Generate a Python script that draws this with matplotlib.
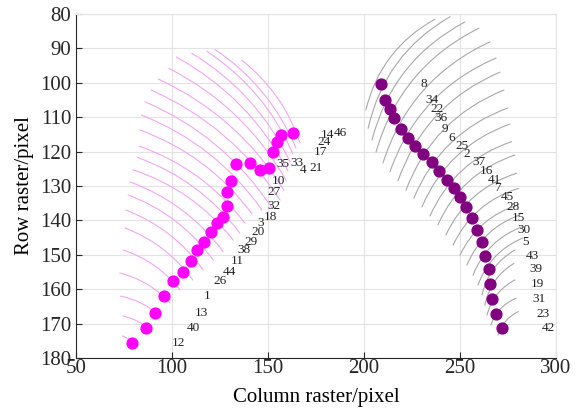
import matplotlib
matplotlib.use("Agg")
import matplotlib.pyplot as plt
from matplotlib.patches import FancyArrowPatch

plt.rcParams['font.family'] = ['Liberation Serif', 'DejaVu Serif']

# left group (magenta), listed from the bottom up
mag_x = [79.0, 86.5, 91.1, 95.7, 100.7, 105.7, 109.9, 112.9, 116.7, 120.2, 123.4, 126.7,
         128.8, 128.5, 130.9, 133.3, 140.6, 145.8, 150.5, 152.8, 154.7, 156.6, 163.2]
mag_y = [175.7, 171.4, 167.0, 162.0, 157.6, 154.9, 151.8, 148.6, 146.2, 143.5, 140.8, 138.9,
         135.8, 131.7, 128.5, 123.7, 123.4, 125.3, 124.8, 120.2, 117.3, 115.2, 114.7]
mag_lab = ['12', '40', '13', '1', '26', '44', '11', '38', '29', '20', '3', '18',
           '32', '27', '10', '35', '33', '4', '21', '17', '24', '14', '46']

# scan arcs of the left group: start (upper left) -> end (lower right)
mag_arc_x0 = [74.3, 74.6, 73.2, 72.9, 74.6, 75.5, 76.0, 77.2, 78.1, 79.8, 82.1, 83.0,
              83.3, 84.2, 85.9, 89.1, 92.9, 98.4, 102.3, 110.3, 118.1, 122.4, 136.3]
mag_arc_y0 = [173.6, 167.8, 162.0, 155.3, 148.6, 142.2, 137.0, 132.6, 128.8, 125.3, 121.7, 118.4,
              113.7, 109.4, 105.5, 102.1, 98.9, 95.8, 92.5, 91.4, 90.8, 90.3, 93.4]
mag_arc_x1 = [81.8, 89.6, 94.3, 99.0, 104.2, 110.8, 116.3, 121.5, 126.7, 131.9, 135.4, 138.0,
              141.7, 146.9, 152.1, 156.3, 158.3, 159.4, 160.4, 161.5, 163.0, 164.6, 166.7]
mag_arc_y1 = [176.8, 172.4, 168.1, 164.0, 160.2, 157.3, 154.4, 151.5, 149.1, 145.7, 143.7, 140.8,
              138.1, 137.0, 136.4, 134.1, 131.2, 128.3, 125.6, 123.0, 120.7, 119.0, 117.5]

# right group (purple), listed from the top down
pur_x = [208.7, 210.9, 213.5, 215.6, 219.3, 223.1, 226.7, 230.9, 235.4, 239.1, 243.4, 246.9,
         250.0, 253.0, 256.1, 258.7, 261.5, 263.2, 265.1, 265.8, 266.7, 268.6, 271.7]
pur_y = [100.3, 105.0, 107.7, 110.3, 113.5, 116.1, 118.4, 120.6, 123.0, 125.6, 128.3, 130.5,
         133.1, 136.2, 139.2, 142.8, 146.4, 150.3, 154.2, 158.5, 162.8, 167.3, 171.2]
pur_lab = ['8', '34', '22', '36', '9', '6', '25', '2', '37', '16', '41', '7',
           '45', '28', '15', '30', '5', '43', '39', '19', '31', '23', '42']

# scan arcs of the right group: start (lower left) -> end (upper right)
gry_arc_x0 = [201.0, 202.2, 204.2, 206.3, 209.9, 213.5, 217.7, 221.9, 226.0, 230.2, 234.4, 238.5,
              242.7, 246.4, 250.0, 253.6, 256.8, 259.4, 261.5, 263.0, 264.1, 266.1, 269.8]
gry_arc_y0 = [107.9, 113.2, 116.6, 120.1, 123.3, 125.9, 128.5, 131.2, 133.5, 136.1, 138.7, 141.3,
              144.2, 147.2, 150.1, 153.0, 155.9, 158.8, 161.7, 164.6, 167.5, 170.4, 173.3]
gry_arc_x1 = [237.0, 244.8, 252.6, 259.9, 265.6, 268.8, 270.8, 272.9, 275.0, 276.0, 276.9, 278.6,
              279.5, 280.4, 280.4, 281.2, 282.1, 282.8, 278.6, 278.1, 278.6, 279.2, 280.4]
gry_arc_y1 = [81.5, 80.8, 82.3, 84.1, 88.1, 92.8, 96.9, 102.1, 107.3, 112.0, 117.1, 121.0,
              126.3, 130.7, 135.5, 138.4, 141.9, 145.1, 148.6, 152.5, 157.3, 162.6, 166.5]

fig = plt.figure(figsize=(5.84, 4.12), dpi=100)
ax = fig.add_axes([0.130, 0.131, 0.822, 0.835])

# arcs
for x0, y0, x1, y1 in zip(mag_arc_x0, mag_arc_y0, mag_arc_x1, mag_arc_y1):
    p = FancyArrowPatch((x0, y0), (x1, y1), arrowstyle='-', shrinkA=0, shrinkB=0,
                        connectionstyle='arc3,rad=-0.15', color='#f3a6f3', lw=0.8, zorder=2)
    ax.add_patch(p)
for x0, y0, x1, y1 in zip(gry_arc_x0, gry_arc_y0, gry_arc_x1, gry_arc_y1):
    p = FancyArrowPatch((x0, y0), (x1, y1), arrowstyle='-', shrinkA=0, shrinkB=0,
                        connectionstyle='arc3,rad=-0.22', color='#a8a8a8', lw=0.8, zorder=2)
    ax.add_patch(p)

# points
ax.plot(mag_x, mag_y, 'o', ls='none', color='#ff00ff', ms=7.8, zorder=3)
ax.plot(pur_x, pur_y, 'o', ls='none', color='#800080', ms=7.8, zorder=3)

# ring numbers
for x, y, s in zip(mag_x, mag_y, mag_lab):
    ax.text(x + 21, y, s, ha='left', va='center', fontsize=9.5, color='#222222', zorder=4)
for x, y, s in zip(pur_x, pur_y, pur_lab):
    ax.text(x + 21, y, s, ha='left', va='center', fontsize=9.5, color='#222222', zorder=4)

ax.set_xlim(50, 300)
ax.set_ylim(180, 80)
ax.set_xticks(range(50, 301, 50))
ax.set_yticks(range(80, 181, 10))
ax.grid(True, color='#e3e3e3', lw=0.8)
ax.set_axisbelow(True)
for s in ['top', 'right']:
    ax.spines[s].set_color('#e3e3e3')
for s in ['left', 'bottom']:
    ax.spines[s].set_color('#262626')
    ax.spines[s].set_linewidth(0.8)
ax.tick_params(direction='in', length=4, width=0.8, labelsize=15, colors='#262626',
               top=False, right=False)
ax.tick_params(axis='x', pad=1)
ax.set_xlabel('Column raster/pixel', fontsize=15, labelpad=7)
ax.set_ylabel('Row raster/pixel', fontsize=15, labelpad=4)

fig.savefig('out.png', dpi=100)
